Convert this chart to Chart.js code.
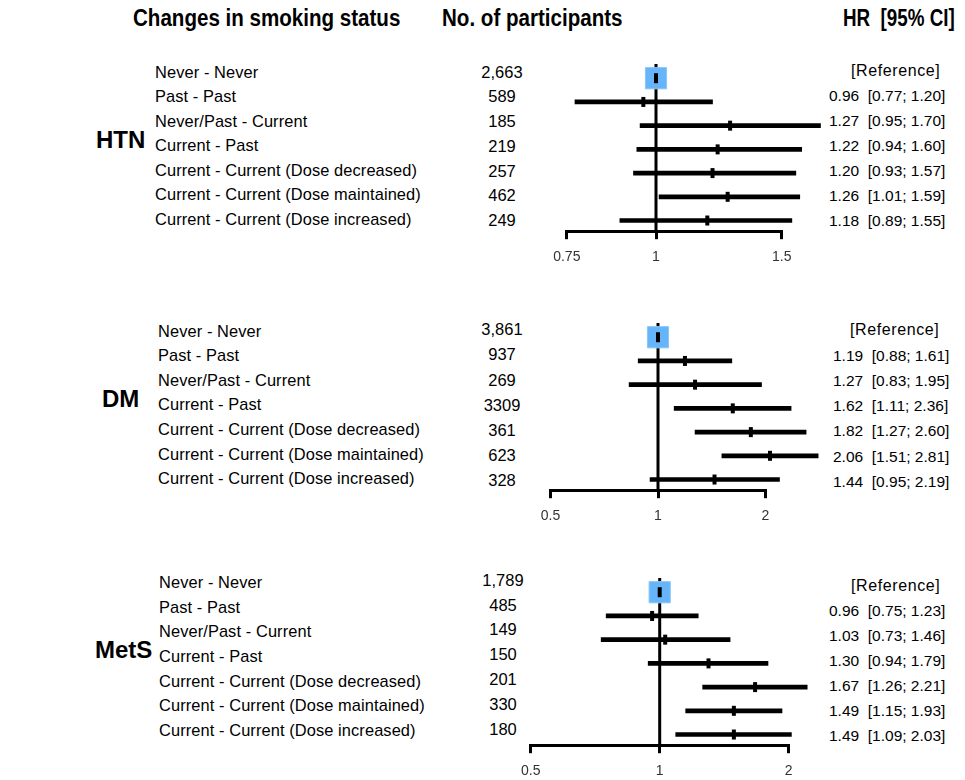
<!DOCTYPE html>
<html>
<head>
<meta charset="utf-8">
<script src="https://cdn.jsdelivr.net/npm/chart.js@4.4.1/dist/chart.umd.min.js"></script>
<style>
  html, body { margin: 0; padding: 0; background: #fff; }
  body { width: 965px; height: 780px; position: relative; overflow: hidden;
         font-family: "Liberation Sans", Arial, sans-serif; color: #000; }
  .t { position: absolute; white-space: pre; line-height: 1; }
  .hd { font-weight: bold; font-size: 23.5px; transform: scaleX(0.875); transform-origin: left center; }
  .hd.narrow { transform: scaleX(0.8); }
  .grp { font-weight: bold; font-size: 24px; }
  .lab { font-size: 16.4px; letter-spacing: 0.1px; }
  .num { font-size: 16.5px; transform: translateX(-50%); }
  .hr { font-size: 15.5px; }
  .ref { font-size: 16px; letter-spacing: 0.6px; }
  canvas { position: absolute; left: 0; }
</style>
</head>
<body>
<script>
// Forest plot: HR by change in smoking status, three outcomes stacked.
const rowLabels = [
  "Never - Never", "Past - Past", "Never/Past - Current", "Current - Past",
  "Current - Current (Dose decreased)", "Current - Current (Dose maintained)",
  "Current - Current (Dose increased)"
];

const htnN  = ["2,663", "589", "185", "219", "257", "462", "249"];
const htnHR = [1, 0.96, 1.27, 1.22, 1.20, 1.26, 1.18];
const htnLo = [null, 0.77, 0.95, 0.94, 0.93, 1.01, 0.89];
const htnHi = [null, 1.20, 1.70, 1.60, 1.57, 1.59, 1.55];
const htnTicks = [0.75, 1, 1.5];

const dmN  = ["3,861", "937", "269", "3309", "361", "623", "328"];
const dmHR = [1, 1.19, 1.27, 1.62, 1.82, 2.06, 1.44];
const dmLo = [null, 0.88, 0.83, 1.11, 1.27, 1.51, 0.95];
const dmHi = [null, 1.61, 1.95, 2.36, 2.60, 2.81, 2.19];
const dmTicks = [0.5, 1, 2];

const metsN  = ["1,789", "485", "149", "150", "201", "330", "180"];
const metsHR = [1, 0.96, 1.03, 1.30, 1.67, 1.49, 1.49];
const metsLo = [null, 0.75, 0.73, 0.94, 1.26, 1.15, 1.09];
const metsHi = [null, 1.23, 1.46, 1.79, 2.21, 1.93, 2.03];
const metsTicks = [0.5, 1, 2];

const panels = [
  { name: "HTN", n: htnN, hr: htnHR, lo: htnLo, hi: htnHi, ticks: htnTicks,
    top: 48, one: 656, pxPerLn: 310, grpX: 96, grpY: 140,
    labX: 155, labY: 71.7, labStep: 24.55, numX: 502, numY: 72, numStep: 24.7,
    hrX: 829, refX: 851, hrY: 70.5, hrStep: 25 },
  { name: "DM", n: dmN, hr: dmHR, lo: dmLo, hi: dmHi, ticks: dmTicks,
    top: 307, one: 658, pxPerLn: 155, grpX: 102, grpY: 399,
    labX: 158, labY: 330.7, labStep: 24.6, numX: 502, numY: 329.5, numStep: 25.2,
    hrX: 833, refX: 850, hrY: 330, hrStep: 25.3 },
  { name: "MetS", n: metsN, hr: metsHR, lo: metsLo, hi: metsHi, ticks: metsTicks,
    top: 562, one: 659.7, pxPerLn: 186, grpX: 95, grpY: 650,
    labX: 159, labY: 582, labStep: 24.7, numX: 503, numY: 580, numStep: 24.8,
    hrX: 829, refX: 851, hrY: 585.7, hrStep: 25 }
];

const Y_MIN = -0.6, Y_MAX = 6.45;

function addText(cls, txt, x, y) {
  const d = document.createElement("div");
  d.className = "t " + cls;
  d.textContent = txt;
  d.style.left = x + "px";
  document.body.appendChild(d);
  const h = parseFloat(getComputedStyle(d).fontSize);
  d.style.top = (y - h / 2) + "px";
  return d;
}

// column headers
addText("hd", "Changes in smoking status", 133, 19);
addText("hd", "No. of participants", 442, 19);
addText("hd narrow", "HR  [95% CI]", 843, 19);

function fmt(v) { return v.toFixed(2); }

function makePanel(p) {
  addText("grp", p.name, p.grpX, p.grpY);
  rowLabels.forEach((lab, i) => {
    addText("lab", lab, p.labX, p.labY + i * p.labStep);
    addText("num", p.n[i], p.numX, p.numY + i * p.numStep);
    if (p.lo[i] == null) addText("ref", "[Reference]", p.refX, p.hrY);
    else addText("hr", `${fmt(p.hr[i])}  [${fmt(p.lo[i])}; ${fmt(p.hi[i])}]`, p.hrX, p.hrY + i * p.hrStep);
  });

  const cv = document.createElement("canvas");
  cv.width = 965; cv.height = 228;
  cv.style.top = p.top + "px";
  document.body.appendChild(cv);

  const lo = p.ticks[0], hi = p.ticks[p.ticks.length - 1];
  const padL = p.one + Math.log(lo) * p.pxPerLn;
  const padR = 965 - (p.one + Math.log(hi) * p.pxPerLn);

  const ciData = [], ptData = [], refData = [];
  p.hr.forEach((v, i) => {
    ptData.push({ x: v, y: i });
    if (p.lo[i] == null) refData.push({ x: v, y: i });
    else ciData.push({ x: [p.lo[i], p.hi[i]], y: i });
  });

  new Chart(cv, {
    type: "bar",
    data: {
      datasets: [
        { type: "line", data: [{ x: 1, y: Y_MIN }, { x: 1, y: Y_MAX }],
          borderColor: "#000", borderWidth: 3, pointRadius: 0, clip: false, order: 4 },
        { type: "bar", data: ciData, backgroundColor: "#000", borderWidth: 0,
          barThickness: 4, grouped: false, clip: false, order: 3 },
        { type: "scatter", data: refData, pointStyle: "rect", radius: 15,
          backgroundColor: "#66b5fb", borderColor: "#8cc6f5", borderWidth: 1, clip: false, order: 2 },
        { type: "scatter", data: ptData, pointStyle: "line", rotation: 90, radius: 5,
          borderColor: "#000", borderWidth: 4, clip: false, order: 1 }
      ]
    },
    options: {
      indexAxis: "y",
      responsive: false,
      animation: false,
      events: [],
      layout: { padding: { left: padL, right: padR, top: 10, bottom: 0 } },
      plugins: { legend: { display: false }, tooltip: { enabled: false } },
      scales: {
        x: {
          type: "logarithmic", min: lo, max: hi,
          afterBuildTicks: s => { s.ticks = p.ticks.map(v => ({ value: v })); },
          ticks: { autoSkip: false, maxRotation: 0, padding: 10, color: "#333",
                   font: { size: 14, family: "Liberation Sans" }, callback: v => String(v) },
          grid: { drawOnChartArea: false, drawTicks: true, tickLength: 8, lineWidth: 3, color: "#000" },
          border: { display: true, width: 3, color: "#000" }
        },
        y: { type: "linear", min: Y_MIN, max: Y_MAX, reverse: true, offset: false, display: false }
      }
    }
  });
}

panels.forEach(makePanel);
</script>
</body>
</html>
